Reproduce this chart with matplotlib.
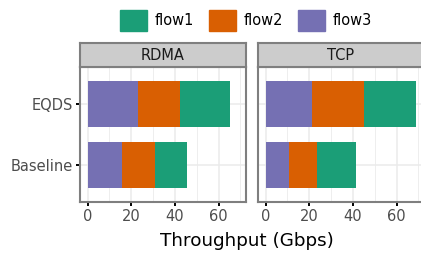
import matplotlib.pyplot as plt
import matplotlib.patches as mpatches

plt.rcParams['font.family'] = 'DejaVu Sans'

# data
setups = ['Baseline', 'EQDS']
panels = ['RDMA', 'TCP']
flows = ['flow1', 'flow2', 'flow3']
colors = {'flow1': '#1B9E77', 'flow2': '#D95F02', 'flow3': '#7570B3'}

rdma_flow3 = [15.6, 22.9]
rdma_flow2 = [15.4, 19.4]
rdma_flow1 = [14.4, 23.0]
tcp_flow3 = [10.8, 21.1]
tcp_flow2 = [12.9, 24.0]
tcp_flow1 = [17.8, 24.0]

data = {
    'RDMA': {'flow3': rdma_flow3, 'flow2': rdma_flow2, 'flow1': rdma_flow1},
    'TCP': {'flow3': tcp_flow3, 'flow2': tcp_flow2, 'flow1': tcp_flow1},
}

W, H = 421, 254
fig = plt.figure(figsize=(W / 100, H / 100), dpi=100)

border = '#7F7F7F'
panel_left = [80, 258]
panel_w = 166
top, strip_bot, bot = 43, 67, 202

for i, name in enumerate(panels):
    x0 = panel_left[i]
    ax = fig.add_axes([x0 / W, (H - bot) / H, panel_w / W, (bot - strip_bot) / H])
    left = [0, 0]
    # ggplot stacks flow3 first (left), then flow2, then flow1
    for f in ['flow3', 'flow2', 'flow1']:
        vals = data[name][f]
        ax.barh(range(len(setups)), vals, left=left, height=0.75,
                color=colors[f], zorder=3)
        left = [a + b for a, b in zip(left, vals)]
    ax.set_xlim(-3.5, 72.6)
    ax.set_ylim(-0.6, 1.6)
    ax.set_xticks([0, 20, 40, 60])
    ax.set_xticks([10, 30, 50, 70], minor=True)
    ax.set_yticks(range(len(setups)))
    ax.set_yticklabels(setups if i == 0 else [])
    ax.grid(which='major', color='#EBEBEB', linewidth=1.1, zorder=0)
    ax.grid(which='minor', axis='x', color='#EBEBEB', linewidth=0.6, zorder=0)
    ax.tick_params(which='major', length=3, width=1.4, color='black',
                   labelsize=10.5, labelcolor='#4D4D4D', pad=2)
    ax.tick_params(which='minor', length=0)
    if i == 1:
        ax.tick_params(axis='y', length=0)
    for s in ax.spines.values():
        s.set_color(border)
        s.set_linewidth(1.5)
    ax.set_axisbelow(True)

    sax = fig.add_axes([x0 / W, (H - strip_bot) / H, panel_w / W, (strip_bot - top) / H])
    sax.set_facecolor('#CCCCCC')
    sax.set_xticks([])
    sax.set_yticks([])
    for s in sax.spines.values():
        s.set_color(border)
        s.set_linewidth(1.5)
    sax.text(0.5, 0.5, name, transform=sax.transAxes, ha='center', va='center',
             fontsize=10.5, color='#1A1A1A')

handles = [mpatches.Patch(color=colors[f], label=f) for f in flows]
fig.legend(handles=handles, loc='center', bbox_to_anchor=(246 / W, 1 - 20.5 / H),
           ncol=3, frameon=False, fontsize=10.5, handlelength=1.85, handleheight=1.85,
           handletextpad=0.57, columnspacing=0.98, borderpad=0, borderaxespad=0)

fig.text(246.5 / W, 1 - 241.5 / H, 'Throughput (Gbps)', ha='center', va='center',
         fontsize=13.2, color='black')

fig.savefig('out.png', dpi=100)
